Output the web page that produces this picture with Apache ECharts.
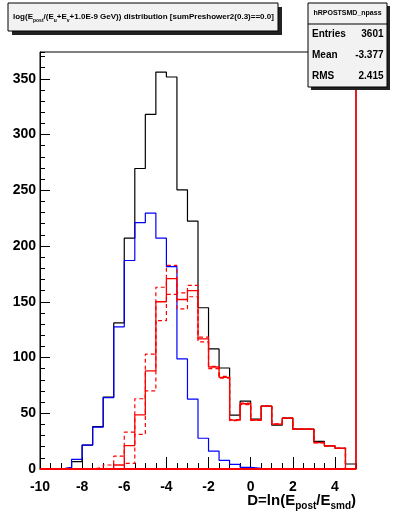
<!DOCTYPE html>
<html><head><meta charset="utf-8">
<script src="https://cdn.jsdelivr.net/npm/echarts@6/dist/echarts.min.js"></script>
<style>html,body{margin:0;padding:0;background:#fff}#c{width:396px;height:522px}</style>
</head><body><div id="c"></div>
<script>
// ---- data (histogram bins of width 0.5 from -10 to 5) ----
const binMin = -10;
const binWidth = 0.5;
const totalCounts = [0,0,1.2,6.6,21.5,38,64.5,131,207,269.5,318,356,351.6,250.4,222.3,144.6,107.7,90.6,48.3,60.9,44.7,56.4,39.3,45.6,35.7,35.7,24.7,20.7,18.6,4.5];
const blueCounts  = [0,0,1.2,8.7,21.5,37.5,64,127.5,187,221,229.5,207,181.5,98.7,62.7,27.6,16,7.8,4.2,1.5,0.6,0,0,0,0,0,0,0,0,0];
const redCounts   = [0,0,0,0,0,0,0.6,3.6,21,48.5,88,150,170.7,152,160,116.7,91.5,82.2,43.8,58.5,43.8,56.4,40.2,45.6,35.7,35.7,23.7,20.7,18.6,0];
const redUpCounts = [0,0,0,0,0,1.5,3.6,11.5,33,63,103,163,182.7,158,164.7,118.2,92,83,44.3,59.2,44,56.6,40.4,45.8,35.9,35.9,24,21,18.8,0];
const redDownCounts=[0,0,0,0,0,0,0,0.3,5,31,70,133,156.6,143.7,154.5,114,90,81.5,43.3,57.8,43.6,56.2,40,45.4,35.5,35.5,23.4,20.4,18.4,0];
const statsLabels = ['Entries','Mean','RMS'];
const statsValues = ['3601','-3.377','2.415'];
const histName = 'hRPOSTSMD_npass';

const xMin = -10, xMax = 5, yMin = 0, yMax = 374;

function stepData(counts){
  const d = counts.map((v,i)=>[binMin + i*binWidth, v]);
  d.push([binMin + counts.length*binWidth, 0]);
  return d;
}
const FONT = 'Liberation Sans, Arial, Helvetica, sans-serif';

const chart = echarts.init(document.getElementById('c'), null, {renderer:'canvas'});
function hist(name, counts, color, dashed, width){
  return {
    name, type:'line', step:'end', symbol:'none', animation:false,
    xAxisIndex:0, yAxisIndex:0, clip:true,
    lineStyle:{color, width: width||1.2, type: dashed ? [4,3] : 'solid'},
    data: stepData(counts)
  };
}
const series = [
  hist('total', totalCounts, '#000', false, 1.2),
  hist('blue', blueCounts, '#0000ff', false, 1.2),
  hist('redUp', redUpCounts, '#ff0000', true, 1.2),
  hist('redDown', redDownCounts, '#ff0000', true, 1.2),
  hist('red', redCounts, '#ff0000', false, 1.3)
];
series[4].markLine = {
  silent:true, symbol:'none', animation:false, label:{show:false},
  lineStyle:{color:'#ff0000', type:'solid', width:2},
  data:[ [{coord:[xMin,0]},{coord:[xMax,0]}],
         [{coord:[xMax,0],lineStyle:{width:1.5}},{coord:[xMax,yMax]}] ]
};

const option = {
  animation:false,
  backgroundColor:'#fff',
  grid:{left:40, right:40, top:52, bottom:53, show:true, borderColor:'#000', borderWidth:1, backgroundColor:'transparent'},
  xAxis:[
    {type:'value', min:xMin, max:xMax, interval:2, position:'bottom',
     axisLine:{show:true, onZero:false, lineStyle:{color:'#000', width:1}},
     axisTick:{show:true, inside:true, length:12, lineStyle:{color:'#000', width:1}},
     axisLabel:{show:true, showMaxLabel:false, margin:11, color:'#000', fontFamily:FONT, fontWeight:'bold', fontSize:14},
     splitLine:{show:false}},
    {type:'value', min:xMin, max:xMax, interval:0.5, position:'bottom',
     axisLine:{show:false, onZero:false},
     axisTick:{show:true, inside:true, length:6, lineStyle:{color:'#000', width:1}},
     axisLabel:{show:false}, splitLine:{show:false}}
  ],
  yAxis:[
    {type:'value', min:yMin, max:yMax, interval:50, position:'left',
     axisLine:{show:true, onZero:false, lineStyle:{color:'#000', width:1}},
     axisTick:{show:true, inside:true, length:10, lineStyle:{color:'#000', width:1}},
     axisLabel:{show:true, showMaxLabel:false, margin:4, color:'#000', fontFamily:FONT, fontWeight:'bold', fontSize:14},
     splitLine:{show:false}},
    {type:'value', min:yMin, max:yMax, interval:10, position:'left', offset:0,
     axisLine:{show:false, onZero:false},
     axisTick:{show:true, inside:true, length:5, lineStyle:{color:'#000', width:1}},
     axisLabel:{show:false}, splitLine:{show:false}}
  ],
  series,
  graphic:[
    // title box
    {type:'rect', shape:{x:12, y:7, width:270, height:28}, style:{fill:'#222'}, z:100},
    {type:'rect', shape:{x:8, y:3, width:270, height:28}, style:{fill:'#f2f2f2', stroke:'#000', lineWidth:1}, z:101},
    {type:'text', x:13, y:17, z:102, style:{
      text:'{m|log(E}{s|post}{m|/(E}{s|u}{m|+E}{s|v}{m|+1.0E-9 GeV)) distribution [sumPreshower2(0.3)==0.0]}',
      verticalAlign:'middle', align:'left',
      rich:{ m:{fontFamily:FONT, fontWeight:'bold', fontSize:8, fill:'#000'},
             s:{fontFamily:FONT, fontWeight:'bold', fontSize:5, fill:'#000', padding:[7,0,0,0]} }
    }},
    // stats box
    {type:'rect', shape:{x:311, y:6, width:79, height:84}, style:{fill:'#222'}, z:100},
    {type:'rect', shape:{x:308, y:3, width:79, height:84}, style:{fill:'#f2f2f2', stroke:'#000', lineWidth:1}, z:101},
    {type:'line', shape:{x1:308, y1:24, x2:387, y2:24}, style:{stroke:'#000', lineWidth:1}, z:102},
    {type:'text', x:347.5, y:13.5, z:102, style:{text:histName, align:'center', verticalAlign:'middle', fontFamily:FONT, fontWeight:'bold', fontSize:7, fill:'#000'}},
    ...statsLabels.map((t,i)=>({type:'text', x:312, y:34+i*21.3, z:102, style:{text:t, align:'left', verticalAlign:'middle', fontFamily:FONT, fontWeight:'bold', fontSize:10, fill:'#000'}})),
    ...statsValues.map((t,i)=>({type:'text', x:383.5, y:34+i*21.3, z:102, style:{text:t, align:'right', verticalAlign:'middle', fontFamily:FONT, fontWeight:'bold', fontSize:10, fill:'#000'}})),
    // x axis title
    {type:'text', right:40, top:493, z:102, style:{
      text:'{m|D=ln(E}{s|post}{m|/E}{s|smd}{m|)}',
      rich:{ m:{fontFamily:FONT, fontWeight:'bold', fontSize:15, fill:'#000'},
             s:{fontFamily:FONT, fontWeight:'bold', fontSize:10, fill:'#000', padding:[12,0,0,0]} }
    }}
  ]
};
chart.setOption(option);
</script>
</body></html>
